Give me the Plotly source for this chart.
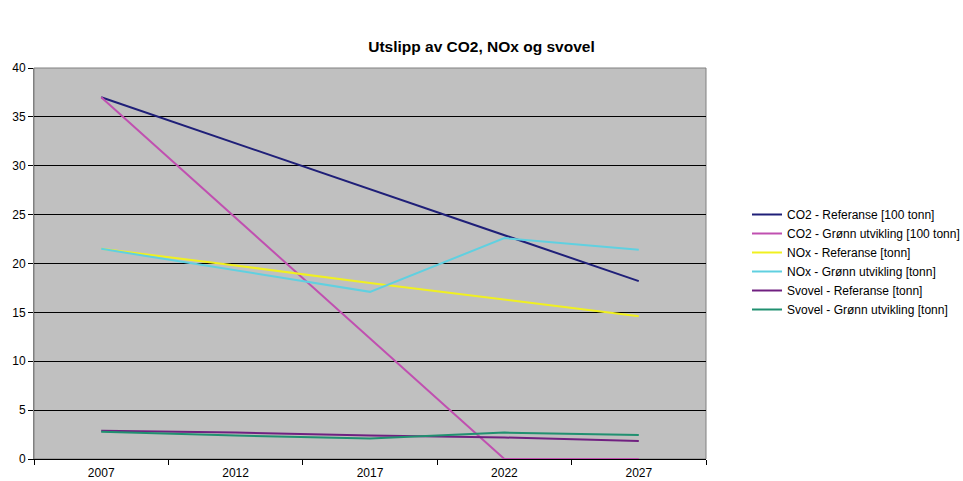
import plotly.graph_objects as go

years = ["2007", "2012", "2017", "2022", "2027"]
co2_ref = [37.0, 32.3, 27.6, 22.9, 18.2]
co2_green = [37.0, 24.7, 12.3, 0.0, 0.0]
nox_ref = [21.5, 19.8, 18.0, 16.3, 14.6]
nox_green = [21.5, 19.3, 17.1, 22.6, 21.4]
svovel_ref = [2.9, 2.7, 2.4, 2.2, 1.85]
svovel_green = [2.8, 2.4, 2.1, 2.7, 2.45]

series = [
    ("CO2 - Referanse [100 tonn]", co2_ref, "#1F1F78"),
    ("CO2 - Grønn utvikling [100 tonn]", co2_green, "#C050B0"),
    ("NOx - Referanse [tonn]", nox_ref, "#F0F020"),
    ("NOx - Grønn utvikling [tonn]", nox_green, "#60D0E0"),
    ("Svovel - Referanse [tonn]", svovel_ref, "#702080"),
    ("Svovel - Grønn utvikling [tonn]", svovel_green, "#209070"),
]

fig = go.Figure()
for name, vals, col in series:
    fig.add_trace(go.Scatter(x=years, y=vals, name=name, mode="lines",
                             line=dict(color=col, width=2)))

fig.update_layout(
    width=963, height=481,
    margin=dict(l=34, r=257, t=68, b=22, autoexpand=False),
    paper_bgcolor="white",
    plot_bgcolor="#C0C0C0",
    font=dict(family="Liberation Sans, Arial", size=12, color="black"),
    title=dict(text="<b>Utslipp av CO2, NOx og svovel</b>", x=0.5, xanchor="center",
               xref="container", yref="container", y=1 - 47 / 481, yanchor="middle",
               font=dict(size=15.5, family="Liberation Sans, Arial")),
    showlegend=True,
    legend=dict(xref="container", yref="container", x=747 / 963, xanchor="left",
                y=1 - 262 / 481, yanchor="middle",
                bgcolor="rgba(0,0,0,0)", font=dict(size=12),
                tracegroupgap=0, itemwidth=30),
    xaxis=dict(type="category", tickson="boundaries", ticks="outside", ticklen=5,
               tickcolor="black", showgrid=False, showline=True, linecolor="black",
               linewidth=1, mirror=False, zeroline=False, automargin=False,
               range=[-0.5, 4.5], tickfont=dict(size=12), ticklabelstandoff=3),
    yaxis=dict(range=[0, 40], dtick=5, ticks="outside", ticklen=5, tickcolor="black",
               showgrid=True, gridcolor="black", gridwidth=1, showline=True,
               linecolor="#808080", linewidth=1, zeroline=False, automargin=False,
               tickfont=dict(size=12)),
)
fig.add_shape(type="rect", xref="paper", yref="paper", x0=0, y0=0, x1=1, y1=1,
              line=dict(color="#808080", width=1), layer="below")

fig.write_html("out.html", config={"displayModeBar": False},
               post_script="document.body.style.margin='0';document.body.style.overflow='hidden';")
